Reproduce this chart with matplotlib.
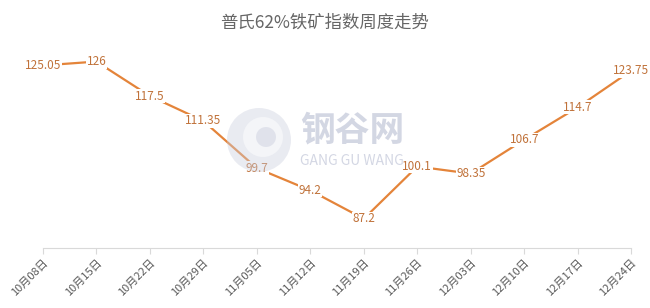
import matplotlib
matplotlib.use('Agg')
import matplotlib.pyplot as plt
from matplotlib.patches import Ellipse

plt.rcParams['font.family'] = ['Noto Sans CJK SC', 'DejaVu Sans']

dates = ['10月08日', '10月15日', '10月22日', '10月29日', '11月05日', '11月12日',
         '11月19日', '11月26日', '12月03日', '12月10日', '12月17日', '12月24日']
values = [125.05, 126, 117.5, 111.35, 99.7, 94.2, 87.2, 100.1, 98.35, 106.7, 114.7, 123.75]
labels = ['125.05', '126', '117.5', '111.35', '99.7', '94.2', '87.2', '100.1',
          '98.35', '106.7', '114.7', '123.75']

line_color = '#E4843A'
label_color = '#C0723A'
wm = '#C9CDDD'

fig = plt.figure(figsize=(6.5, 3.08), dpi=100)
ax = fig.add_axes([0.066, 0.195, 0.905, 0.684])

x = list(range(len(values)))
ax.plot(x, values, color=line_color, linewidth=1.6, zorder=2)
for xi, v, t in zip(x, values, labels):
    ax.text(xi, v, t, ha='center', va='center', fontsize=8.5, color=label_color,
            bbox=dict(facecolor='white', edgecolor='none', pad=0.3), zorder=3)

ax.set_xlim(0, 11)
ax.set_ylim(80, 132)
ax.set_xticks(x)
ax.set_xticklabels(dates, rotation=45, ha='right', va='top', fontsize=8,
                   color='#595959', rotation_mode='anchor')
ax.set_yticks([])
for s in ['top', 'right', 'left']:
    ax.spines[s].set_visible(False)
ax.spines['bottom'].set_color('#D9D9D9')
ax.tick_params(axis='x', length=4, color='#D9D9D9', pad=3)

# watermark, drawn over the chart
fig.patches.append(Ellipse((259 / 650, 1 - 140 / 308), 64 / 650, 64 / 308,
                           transform=fig.transFigure, facecolor=wm,
                           edgecolor='none', alpha=0.4, zorder=5))
fig.patches.append(Ellipse((263 / 650, 1 - 137 / 308), 40 / 650, 40 / 308,
                           transform=fig.transFigure, facecolor='white',
                           edgecolor='none', alpha=0.5, zorder=6))
fig.patches.append(Ellipse((266 / 650, 1 - 137 / 308), 20 / 650, 20 / 308,
                           transform=fig.transFigure, facecolor=wm,
                           edgecolor='none', alpha=0.45, zorder=7))
fig.text(352 / 650, 1 - 130 / 308, '钢谷网', fontsize=25, color=wm, alpha=0.8,
         fontweight='bold', ha='center', va='center', zorder=8)
fig.text(352 / 650, 1 - 161 / 308, 'GANG GU WANG', fontsize=10, color=wm, alpha=0.8,
         ha='center', va='center', zorder=8)

fig.suptitle('普氏62%铁矿指数周度走势', y=0.955, fontsize=12.5, color='#666666')

plt.savefig('out.png', dpi=100)
